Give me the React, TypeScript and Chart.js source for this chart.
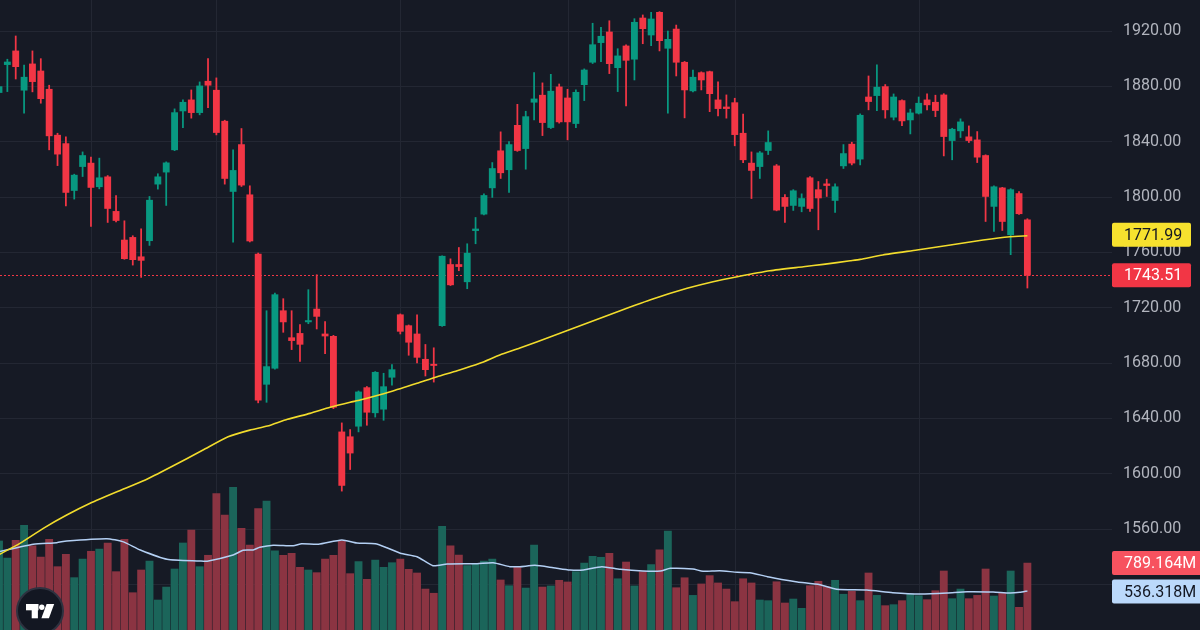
import React, { useEffect, useRef } from 'react';
import { Chart, registerables } from 'chart.js';

Chart.register(...registerables);

// ---------- data ----------
const open = [1875.5,1895.7,1905.6,1877.2,1896.2,1891.1,1877.9,1844.7,1838.6,1804.7,
  1822.0,1824.5,1807.4,1814.6,1789.6,1768.9,1770.8,1756.8,1768.4,1809.3,
  1818.0,1834.1,1862.2,1870.2,1861.0,1883.7,1877.2,1854.8,1804.0,1837.9,
  1801.6,1758.8,1664.6,1676.2,1717.8,1698.3,1701.4,1709.7,1719.0,1701.0,
  1699.3,1630.2,1626.7,1634.3,1662.2,1644.0,1646.6,1669.7,1714.9,1707.0,
  1701.0,1682.7,1679.1,1707.0,1751.2,1751.2,1738.7,1775.7,1787.6,1806.6,
  1833.4,1819.7,1851.8,1835.0,1868.5,1873.6,1850.2,1879.6,1871.6,1853.1,
  1881.2,1897.4,1911.6,1919.3,1893.5,1909.2,1899.6,1929.4,1917.1,1933.5,
  1907.5,1921.4,1897.4,1876.7,1889.9,1890.6,1870.2,1865.1,1868.2,1846.1,
  1824.5,1822.0,1833.6,1822.5,1799.7,1793.9,1793.2,1813.9,1805.3,1809.5,
  1797.5,1822.5,1838.2,1827.4,1872.3,1873.3,1879.8,1857.7,1869.7,1855.7,
  1860.6,1870.2,1868.5,1873.8,1840.8,1847.8,1843.5,1841.3,1830.0,1793.2,
  1806.6,1772.7,1802.5,1783.5];

const high = [1881,1899.6,1916.4,1895.4,1905.6,1900.0,1880.8,1846.1,1843.5,1816.5,
  1832.6,1828.8,1828.1,1815.5,1801.1,1782.8,1772.0,1777.0,1800.4,1816.8,
  1825.4,1863.7,1870.2,1877.4,1883.2,1900.0,1886.1,1855.5,1834.1,1849.5,
  1808.1,1759.5,1717.8,1730.6,1726.5,1717.8,1707.7,1733.0,1743.8,1710.0,
  1700.0,1636.7,1631.9,1659.8,1663.0,1673.8,1672.6,1678.8,1715.5,1707.5,
  1714.9,1693.4,1691.0,1757.5,1755.3,1763.5,1766.2,1785.2,1802.3,1824.9,
  1847.1,1840.1,1867.0,1862.0,1889.9,1882.5,1888.7,1881.7,1877.9,1877.4,
  1892.6,1925.6,1922.7,1927.4,1907.2,1910.0,1928.9,1931.6,1933.5,1934.0,
  1920.0,1924.3,1898.0,1891.8,1890.5,1891.0,1883.2,1873.8,1871.4,1859.9,
  1832.6,1832.9,1847.8,1823.5,1801.8,1805.3,1802.3,1814.8,1811.2,1812.9,
  1809.5,1837.9,1839.6,1860.1,1887.5,1895.5,1881.3,1874.5,1870.2,1863.5,
  1872.3,1874.5,1873.6,1874.7,1849.7,1856.5,1851.4,1847.3,1830.5,1808.0,
  1807.0,1806.0,1804.0,1784.3];

const low = [1873,1876.2,1885.3,1860.6,1876.0,1867.8,1834.1,1822.7,1793.6,1798.5,
  1814.8,1778.7,1805.9,1781.6,1782.0,1755.0,1750.8,1741.9,1765.0,1805.7,
  1793.9,1833.5,1850.2,1857.0,1859.4,1864.6,1844.9,1809.3,1767.3,1807.6,
  1767.5,1651.2,1651.6,1675.5,1702.2,1689.7,1681.2,1708.4,1704.6,1686.7,
  1647.0,1587.4,1603.0,1630.2,1635.0,1640.9,1638.6,1663.9,1701.0,1685.6,
  1680.0,1670.6,1666.2,1706.5,1736.0,1746.7,1733.7,1766.2,1787.0,1799.7,
  1813.4,1803.3,1833.0,1820.1,1855.7,1844.4,1849.5,1853.4,1841.3,1850.2,
  1869.7,1896.5,1897.8,1889.2,1876.2,1865.8,1884.6,1910.8,1909.4,1905.6,
  1860.6,1887.5,1857.2,1876.0,1877.4,1861.7,1858.6,1857.0,1837.0,1824.9,
  1798.9,1813.4,1830.7,1790.0,1781.6,1790.3,1789.3,1789.6,1776.3,1800.4,
  1788.8,1820.6,1823.2,1823.2,1863.0,1862.5,1857.0,1855.7,1851.6,1845.6,
  1860.0,1863.0,1858.1,1829.7,1826.9,1843.0,1839.4,1824.9,1782.3,1775.1,
  1775.8,1758.3,1787.5,1734.2];

const close = [1879.8,1897.6,1894.2,1886.6,1883.4,1871.1,1844.2,1831.0,1803.3,1815.8,
  1830.0,1806.9,1813.9,1791.7,1783.0,1755.4,1754.7,1754.2,1797.7,1814.6,
  1824.7,1861.0,1868.5,1861.0,1880.3,1880.8,1846.6,1813.4,1819.2,1808.6,
  1768.2,1653.1,1677.4,1729.4,1709.7,1696.2,1693.5,1710.7,1713.7,1699.5,
  1648.0,1591.5,1614.9,1659.1,1644.4,1673.3,1662.9,1675.2,1702.9,1695.0,
  1684.1,1675.2,1678.2,1757.2,1736.5,1749.7,1759.4,1776.9,1801.1,1820.6,
  1817.5,1837.9,1833.6,1858.1,1870.9,1853.8,1876.5,1854.3,1854.3,1875.7,
  1891.8,1910.1,1916.2,1896.4,1902.0,1898.8,1926.3,1921.7,1928.7,1913.0,
  1914.0,1897.4,1877.4,1886.6,1884.6,1874.7,1863.9,1863.9,1845.1,1826.9,
  1819.2,1831.9,1839.4,1790.5,1793.2,1804.5,1798.9,1791.7,1799.3,1808.3,
  1807.4,1831.4,1824.5,1859.1,1869.0,1879.4,1863.0,1872.3,1855.0,1860.8,
  1867.8,1866.6,1862.5,1843.7,1849.0,1854.3,1840.8,1828.8,1800.4,1807.4,
  1782.3,1805.3,1787.9,1743.51];

// volume in millions
const volume = [988,834,994,1130,945,843,1003,756,868,657,
  825,895,916,970,711,1003,521,726,807,455,
  572,735,970,1087,756,859,1415,1223,1473,1103,
  952,1280,1349,900,859,877,750,726,702,825,
  859,991,693,801,642,816,750,792,825,732,
  699,554,516,1121,945,861,765,777,807,825,
  636,584,756,563,952,572,582,633,618,711,
  789,850,841,877,647,798,582,711,774,907,
  1078,566,656,497,600,675,609,554,440,647,
  609,455,449,620,428,464,380,584,624,575,
  633,507,534,449,699,497,404,413,449,509,
  494,458,539,717,467,554,467,497,735,491,
  516,717,389,789.164];

// price moving average (bar index, value)
const maIdx = [0,2.5,5.3,8.1,10.9,14.1,17.5,20.5,24.4,27.4,30,32.1,34.5,37.2,39.6,42,43.2,46.8,50,52.4,
  54.8,57.5,59.9,62.3,66.3,70.3,74.3,78.2,82.3,85.4,88.3,92.2,96.2,98.6,101.8,103,105.7,109.8,113.8,117.7,120.9,123];
const maVal = [1541.5,1549.6,1560.5,1570.1,1578.6,1586.9,1595.4,1604.6,1617.1,1626.7,1631.5,1634.4,1639.3,1643.6,1648.0,
  1651.6,1653.2,1659.2,1665.3,1670.1,1674.4,1679.8,1685.8,1690.8,1699.7,1708.7,1717.8,1726.3,1734.0,1738.8,
  1742.4,1746.7,1749.6,1751.3,1753.9,1754.9,1758.1,1761.7,1765.3,1768.9,1771.3,1771.99];

// volume moving average (bar index, value in millions)
const vmaIdx = [0,4.1,6.9,8.1,12.9,14.8,16.9,20.1,24,24.9,28,29.2,30.4,31.2,32.8,35.2,36.2,38.2,41,42.8,
  45,46.4,48,50,51.9,53.6,57.2,59.1,61.1,62.3,64.1,66.3,68.3,69.9,72.1,74.3,77,79.1,80.3,83,
  84.2,86.2,88.3,89.8,91.9,94.6,95.5,98.2,100.2,103.8,106.9,110.2,113.4,115.8,118.9,120.9,122.1,123];
const vmaVal = [891,958,973,988,1009,982,907,823,807,805,861,904,907,931,950,945,963,958,997,970,
  963,927,877,846,765,780,783,792,756,756,768,747,726,726,756,732,717,717,741,735,
  714,720,705,702,666,629,618,593,552,545,521,509,518,530,527,518,524,536.318];

const priceTicks = [1520,1560,1600,1640,1680,1720,1760,1800,1840,1880,1920];
const timeGridIdx = [11,26,48,68,88,110];

const lastPrice = 1743.51;
const lastMA = 1771.99;
const lastVol = 789.164;
const lastVolMA = 536.318;

// ---------- styles ----------
const BG = '#161a25';
const GRID = '#232733';
const UP = '#089981';
const DOWN = '#f23645';
const VOL_UP = '#1b655a';
const VOL_DOWN = '#8b3442';
const MA_COLOR = '#f2dc2c';
const VMA_COLOR = '#b4d0f4';
const AXIS_TEXT = '#b2b5be';
const FONT = 'Roboto, "Noto Sans", sans-serif';

export default function App() {
  const ref = useRef<HTMLCanvasElement>(null);

  useEffect(() => {
    document.body.style.margin = '0';
    document.body.style.background = BG;
    const idx = open.map((_, i) => i);
    const isUp = idx.map((i) => close[i] >= open[i]);

    const overlay = {
      id: 'overlay',
      beforeDatasetsDraw(chart: any) {
        const { ctx, chartArea, scales } = chart;
        ctx.save();
        // time grid lines (month boundaries)
        ctx.strokeStyle = GRID;
        ctx.lineWidth = 1;
        timeGridIdx.forEach((v) => {
          const x = Math.round(scales.x.getPixelForValue(v)) + 0.5;
          ctx.beginPath();
          ctx.moveTo(x, chartArea.top);
          ctx.lineTo(x, chartArea.bottom);
          ctx.stroke();
        });
        // last price dotted line
        const y = Math.round(scales.y.getPixelForValue(lastPrice)) + 0.5;
        ctx.strokeStyle = DOWN;
        ctx.setLineDash([2, 2]);
        ctx.beginPath();
        ctx.moveTo(chartArea.left, y);
        ctx.lineTo(chartArea.right, y);
        ctx.stroke();
        ctx.restore();
      },
      afterDraw(chart: any) {
        const { ctx, chartArea, scales } = chart;
        const box = (yc: number, text: string, bg: string, fg: string, w: number) => {
          const x = chartArea.right;
          const h = 24;
          const top = yc - h / 2;
          ctx.save();
          ctx.fillStyle = bg;
          ctx.beginPath();
          (ctx as any).roundRect(x, top, w, h, 2);
          ctx.fill();
          ctx.fillStyle = fg;
          ctx.font = `16px ${FONT}`;
          ctx.textAlign = 'left';
          ctx.textBaseline = 'middle';
          ctx.fillText(text, x + 12, yc + 1);
          ctx.restore();
        };
        box(scales.y.getPixelForValue(lastMA) - 1, lastMA.toFixed(2), '#f7e22e', '#131722', 79);
        box(scales.y.getPixelForValue(lastPrice), lastPrice.toFixed(2), DOWN, '#ffffff', 79);
        box(scales.yv.getPixelForValue(lastVol), lastVol.toFixed(3) + 'M', '#f7525f', '#ffffff', 90);
        box(scales.yv.getPixelForValue(lastVolMA) + 0.5, lastVolMA.toFixed(3) + 'M', '#bbd9fb', '#131722', 90);

        // TradingView logo badge
        ctx.save();
        ctx.beginPath();
        ctx.arc(40, 611, 23, 0, Math.PI * 2);
        ctx.fillStyle = '#131722';
        ctx.fill();
        ctx.lineWidth = 2;
        ctx.strokeStyle = '#2e3240';
        ctx.stroke();
        ctx.fillStyle = '#ffffff';
        ctx.fillRect(26, 604, 12.5, 6.3);
        ctx.fillRect(31.7, 604, 6.2, 14.3);
        ctx.beginPath();
        ctx.arc(41.8, 607.2, 2.7, 0, Math.PI * 2);
        ctx.fill();
        ctx.beginPath();
        ctx.moveTo(46.6, 604);
        ctx.lineTo(54.2, 604);
        ctx.lineTo(48.9, 618.3);
        ctx.lineTo(41.4, 618.3);
        ctx.closePath();
        ctx.fill();
        ctx.restore();
      },
    };

    const chart = new Chart(ref.current as HTMLCanvasElement, {
      type: 'bar',
      data: {
        datasets: [
          {
            type: 'line',
            label: 'MA',
            data: maIdx.map((x, k) => ({ x, y: maVal[k] })),
            borderColor: MA_COLOR,
            borderWidth: 1.6,
            pointRadius: 0,
            tension: 0.2,
            yAxisID: 'y',
            order: 0,
          } as any,
          {
            type: 'bar',
            label: 'body',
            data: idx.map((i) => ({ x: i, y: [open[i], close[i]] })),
            backgroundColor: idx.map((i) => (isUp[i] ? UP : DOWN)),
            borderWidth: 0,
            barThickness: 6.2,
            grouped: false,
            yAxisID: 'y',
            order: 1,
          } as any,
          {
            type: 'bar',
            label: 'wick',
            data: idx.map((i) => ({ x: i, y: [low[i], high[i]] })),
            backgroundColor: idx.map((i) => (isUp[i] ? UP : DOWN)),
            borderWidth: 0,
            barThickness: 1.1,
            grouped: false,
            yAxisID: 'y',
            order: 2,
          } as any,
          {
            type: 'line',
            label: 'Vol MA',
            data: vmaIdx.map((x, k) => ({ x, y: vmaVal[k] })),
            borderColor: VMA_COLOR,
            borderWidth: 1.5,
            pointRadius: 0,
            tension: 0.2,
            yAxisID: 'yv',
            order: 3,
          } as any,
          {
            type: 'bar',
            label: 'Volume',
            data: idx.map((i) => ({ x: i, y: volume[i] })),
            backgroundColor: idx.map((i) => (isUp[i] ? VOL_UP : VOL_DOWN)),
            borderWidth: 0,
            barThickness: 7.2,
            grouped: false,
            yAxisID: 'yv',
            order: 4,
          } as any,
        ],
      },
      options: {
        responsive: false,
        animation: false,
        layout: { padding: 0 },
        plugins: { legend: { display: false }, tooltip: { enabled: false } },
        scales: {
          x: {
            type: 'linear',
            display: false,
            min: 0.12,
            max: 133.12,
            offset: false,
          },
          y: {
            type: 'linear',
            position: 'right',
            min: 1487.0,
            max: 1942.41,
            grid: { color: GRID, drawTicks: false, lineWidth: 1 },
            border: { display: false },
            ticks: {
              color: AXIS_TEXT,
              padding: 11,
              font: { family: FONT, size: 16 },
              callback: (v: any) => (v === 1520 ? '' : Number(v).toFixed(2)),
            },
            afterBuildTicks: (s: any) => {
              s.ticks = priceTicks.map((v) => ({ value: v }));
            },
            afterFit: (s: any) => {
              s.width = 88;
              s.paddingTop = 0;
              s.paddingBottom = 0;
            },
          },
          yv: {
            type: 'linear',
            display: false,
            min: 184.2,
            max: 5873,
          },
        },
      } as any,
      plugins: [overlay],
    });
    return () => chart.destroy();
  }, []);

  return (
    <div style={{ position: 'fixed', left: 0, top: 0, width: 1200, height: 630, background: BG }}>
      <canvas ref={ref} width={1200} height={630} style={{ display: 'block', width: 1200, height: 630 }} />
    </div>
  );
}
